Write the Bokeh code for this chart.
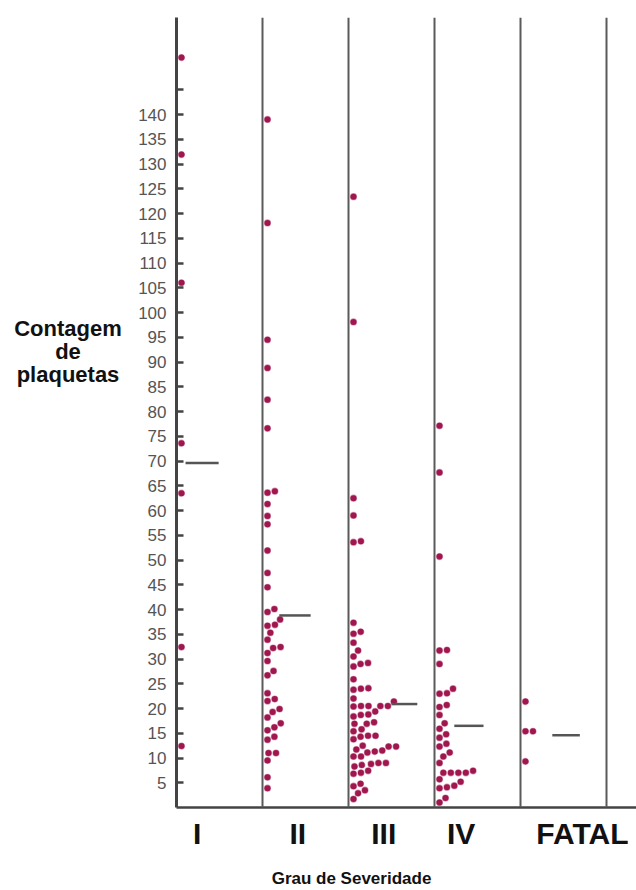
import math
from bokeh.plotting import figure
from bokeh.layouts import row
from bokeh.models import Range1d, FixedTicker, Span, ColumnDataSource, LinearAxis
from bokeh.core.properties import value
from bokeh.embed import file_html
from bokeh.resources import INLINE

# ---------------- data ----------------
categories = ["I", "II", "III", "IV", "FATAL"]

vals_I = [151.5, 131.9, 106.0, 73.6, 63.5, 32.4, 12.4]
vals_II = [139.0, 118.1, 94.5, 88.8, 82.4, 76.6, 63.9, 63.6, 61.3, 58.9, 57.2,
           51.9, 47.4, 44.5, 40.1, 39.5, 38.0, 36.9, 36.7, 35.3, 33.9, 32.4,
           32.2, 31.2, 29.6, 27.6, 26.7, 23.1, 21.9, 21.5, 19.9, 19.3, 18.2,
           17.0, 16.2, 15.6, 14.3, 13.7, 11.0, 11.0, 9.5, 6.1, 3.9]
vals_III = [123.4, 98.1, 62.5, 59.0, 53.8, 53.6, 37.3, 35.5, 35.1, 33.3, 31.7,
            30.5, 29.2, 29.0, 28.5, 25.9, 24.1, 24.0, 23.8, 22.0, 21.4, 20.5,
            20.5, 20.5, 20.5, 20.4, 19.4, 18.8, 18.7, 18.4, 17.2, 16.9, 16.9,
            15.8, 15.4, 14.5, 14.5, 14.3, 13.8, 12.5, 12.3, 12.3, 11.7, 11.5,
            11.3, 11.1, 10.3, 10.3, 9.0, 9.0, 8.8, 8.6, 8.3, 7.4, 7.0, 6.8,
            4.8, 4.3, 3.5, 2.9, 1.7]
vals_IV = [77.1, 67.7, 50.7, 31.8, 31.7, 29.0, 24.0, 23.1, 23.0, 20.7, 20.3,
           18.7, 17.0, 15.9, 14.8, 14.1, 12.9, 12.3, 11.1, 10.3, 9.0, 7.4,
           7.0, 7.0, 7.0, 7.0, 5.7, 5.2, 4.4, 4.1, 3.9, 1.9, 1.0]
vals_FATAL = [21.4, 15.4, 15.4, 9.3]
group_values = [vals_I, vals_II, vals_III, vals_IV, vals_FATAL]

means = [69.6, 38.8, 20.9, 16.5, 14.6]

y_ticks = list(range(5, 150, 5))
y_label_hidden = [145]

y_title_lines = ["Contagem", "de", "plaquetas"]
x_title = "Grau de Severidade"

# ---------------- layout ----------------
H = 890
LW = 130                    # width of the left title panel
W = 636 - LW
BL, BR, BT, BB = 176 - LW, 0, 17, 82
frame_w = W - BL - BR
frame_h = H - BT - BB
x_max = frame_w / 86.0
y_max = 159.6
ppx = frame_w / x_max          # px per column
ppy = frame_h / y_max          # px per value unit

label_pos = [0.24, 1.41, 2.41, 3.31, 4.72]
x_title_pos = 2.035
mean_start = [0.105, 0.195, 0.50, 0.23, 0.37]
mean_end = [0.49, 0.56, 0.80, 0.57, 0.69]
y_title_baselines = [328.0, 351.0, 374.0]   # page pixels

DOT_D = 7.5   # px, collision diameter
X0 = 5.0      # px, first dot offset from column line


def swarm(values):
    placed = []
    out = {}
    order = sorted(range(len(values)), key=lambda i: values[i])
    for i in order:
        y = values[i] * ppy
        cands = [X0]
        for (px, py) in placed:
            dy = abs(y - py)
            if dy < DOT_D:
                cands.append(px + math.sqrt(DOT_D ** 2 - dy ** 2) + 1e-6)
        cands = sorted(c for c in cands if c >= X0)
        chosen = cands[-1]
        for c in cands:
            if all((c - px) ** 2 + (y - py) ** 2 >= DOT_D ** 2 - 1e-3 for px, py in placed):
                chosen = c
                break
        placed.append((chosen, y))
        out[i] = chosen
    return [out[i] / ppx for i in range(len(values))]


xs, ys = [], []
for gi, vals in enumerate(group_values):
    offs = swarm(vals)
    xs += [gi + o for o in offs]
    ys += vals

src = ColumnDataSource(dict(x=xs, y=ys))

# ---------------- left panel with the horizontal y title ----------------
pl = figure(width=LW, height=H, output_backend="svg", toolbar_location=None,
            x_range=Range1d(0, LW), y_range=Range1d(0, frame_h),
            x_axis_location=None, y_axis_location=None,
            min_border_left=0, min_border_right=0, min_border_top=BT,
            min_border_bottom=BB)
pl.outline_line_color = None
pl.grid.visible = False
pl.text(x=[67.5] * 3, y=[(BT + frame_h) - b for b in y_title_baselines],
        text=y_title_lines,
        text_align="center", text_baseline="alphabetic",
        text_font=value("Liberation Sans"), text_font_style="bold",
        text_font_size="22px", text_color="#111111")

# ---------------- main plot ----------------
p = figure(width=W, height=H, output_backend="svg", toolbar_location=None,
           x_range=Range1d(0, x_max), y_range=Range1d(0, y_max),
           min_border_left=BL, min_border_right=BR, min_border_top=BT,
           min_border_bottom=BB)
p.outline_line_color = None
p.grid.visible = False
p.background_fill_color = "white"

# separators
for k in range(1, 6):
    p.add_layout(Span(location=k, dimension="height", line_color="#5a5a5a",
                      line_width=2))

# dots
p.scatter("x", "y", source=src, size=6, fill_color="#a0174f",
          line_color="#a0174f", line_alpha=0.45, line_width=1.2)

# mean lines
p.segment(x0=[i + s for i, s in enumerate(mean_start)], y0=means,
          x1=[i + e for i, e in enumerate(mean_end)], y1=means,
          line_color="#555555", line_width=2.5)

# y axis
ya = p.yaxis[0]
ya.ticker = FixedTicker(ticks=y_ticks)
ya.major_label_overrides = {t: "" for t in y_label_hidden}
ya.axis_line_width = 3
ya.axis_line_color = "#444444"
ya.major_tick_in = 7
ya.major_tick_out = 0
ya.major_tick_line_width = 2.5
ya.major_tick_line_color = "#444444"
ya.minor_tick_line_color = None
ya.major_label_standoff = 10
ya.major_label_text_font = "Liberation Sans"
ya.major_label_text_font_size = "17px"
ya.major_label_text_color = "#555555"

# x axis (category labels)
xa = p.xaxis[0]
xa.ticker = FixedTicker(ticks=label_pos)
xa.major_label_overrides = {pos: c for pos, c in zip(label_pos, categories)}
xa.axis_line_width = 2.5
xa.axis_line_color = "#444444"
xa.major_tick_line_color = None
xa.minor_tick_line_color = None
xa.major_label_standoff = 3
xa.major_label_text_font = "Liberation Sans"
xa.major_label_text_font_style = "bold"
xa.major_label_text_font_size = "30px"
xa.major_label_text_color = "#111111"

# second bottom axis carrying the x title
xt = LinearAxis(ticker=FixedTicker(ticks=[x_title_pos]),
                major_label_overrides={x_title_pos: x_title})
xt.axis_line_color = None
xt.major_tick_line_color = None
xt.minor_tick_line_color = None
xt.major_tick_out = 0
xt.major_label_standoff = 16
xt.major_label_text_font = "Liberation Sans"
xt.major_label_text_font_style = "bold"
xt.major_label_text_font_size = "17px"
xt.major_label_text_color = "#111111"
p.add_layout(xt, "below")

layout = row(pl, p, spacing=0)
open("out.html", "w").write(file_html(layout, INLINE))
